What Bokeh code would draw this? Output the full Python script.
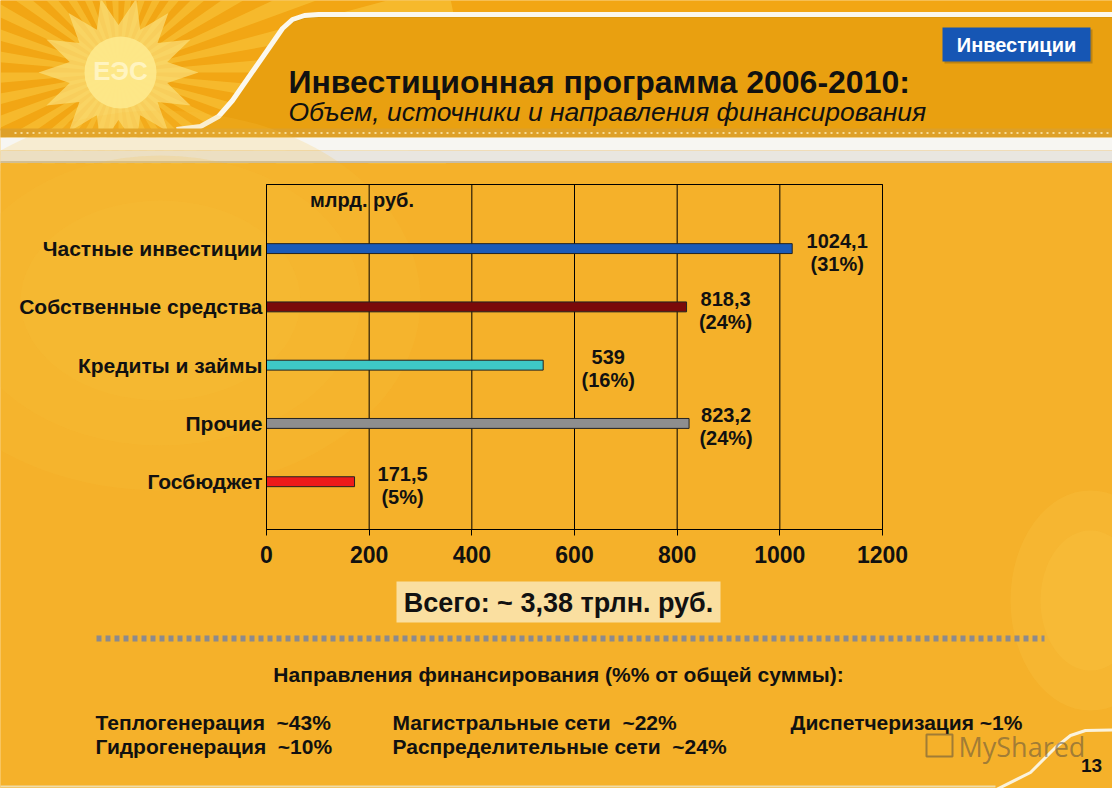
from bokeh.plotting import figure
from bokeh.models import Range1d, FixedTicker, Label, LinearAxis
from bokeh.embed import file_html
from bokeh.resources import INLINE
from bokeh.core.properties import value
import numpy as np

# ---------------- data ----------------
categories = ["Госбюджет", "Прочие", "Кредиты и займы", "Собственные средства", "Частные инвестиции"]
amounts = [171.5, 823.2, 539, 818.3, 1024.1]
value_labels = ["171,5", "823,2", "539", "818,3", "1024,1"]
share_labels = ["(5%)", "(24%)", "(16%)", "(24%)", "(31%)"]
x_ticks = [0, 200, 400, 600, 800, 1000, 1200]
unit_label = "млрд. руб."
total_label = "Всего: ~ 3,38 трлн. руб."
directions_title = "Направления финансирования (%% от общей суммы):"
directions_col1 = ["Теплогенерация\u00a0 ~43%", "Гидрогенерация\u00a0 ~10%"]
directions_col2 = ["Магистральные сети\u00a0 ~22%", "Распределительные сети\u00a0 ~24%"]
directions_col3 = ["Диспетчеризация ~1%"]
title_text = "Инвестиционная программа 2006-2010:"
subtitle_text = "Объем, источники и направления финансирования"
badge_text = "Инвестиции"
page_number = "13"

# ---------------- styles / layout constants ----------------
bar_colors = ["#ee1a1a", "#8e8e8e", "#3ec8c6", "#7a0a0a", "#1b5bb8"]
label_dx = [48, 37, 65, 39, 45]
FONT = "Liberation Sans"
BG = "#f5b12a"
W, H = 1112, 788
PX0, PX1, PY0, PY1 = 0, 1112, 0, 788          # slide coordinates covered by the canvas
FL, FR, FT, FB = 266, 882, 184, 529            # chart frame in slide coordinates
XMIN, XMAX = 0, 1200
YMIN, YMAX = -0.82, 5.1

sx = (FR - FL) / (XMAX - XMIN)
sy = (FB - FT) / (YMAX - YMIN)
cx_range = Range1d(XMIN - (FL - PX0) / sx, XMAX + (PX1 - FR) / sx)
cy_range = Range1d(YMIN - (PY1 - FB) / sy, YMAX + (FT - PY0) / sy)

p = figure(width=W, height=H, x_range=Range1d(PX0, PX1), y_range=Range1d(PY1, PY0),
           x_axis_type=None, y_axis_type=None, toolbar_location=None,
           output_backend="svg", min_border=0)
p.extra_x_ranges = {"cx": cx_range}
p.extra_y_ranges = {"cy": cy_range}
p.grid.visible = False
p.outline_line_color = None
p.background_fill_color = BG
p.border_fill_color = BG

# ---------------- header ----------------
p.quad(left=-10, right=1130, top=-10, bottom=130, color="#f2a614", line_color=None)
ang = np.linspace(0, 2 * np.pi, 73)
p.wedge(x=118, y=72, radius=340, start_angle=ang[:-1:2], end_angle=ang[1::2],
        color="#fcd650", alpha=0.4, line_color=None)
n = 28
t = np.linspace(0, 2 * np.pi, n, endpoint=False)
r = np.where(np.arange(n) % 2 == 0, 80, 50)
p.patch(x=118 + r * np.cos(t), y=72 + r * np.sin(t) * 0.95, color="#fbe07a", alpha=0.7, line_color=None)
p.circle(x=120, y=72, radius=36, color="#fde98c", alpha=0.9, line_color=None)
p.text(x=[120], y=[70], text=["ЕЭС"], text_font=value(FONT), text_font_style="bold",
       text_font_size="26px", text_color="#fff4c0", text_align="center", text_baseline="middle")
tx = [176, 200, 218, 232, 282, 292, 304, 318, 1130, 1130]
ty = [129, 126, 116, 100, 28, 19, 15, 14, 14, 129]
p.patch(x=tx, y=ty, color="#e9a010", line_color=None)
p.line(x=tx[:9], y=[v + 2 for v in ty[:9]], line_color="#b8860b", line_width=2, alpha=0.5)
p.line(x=tx[:9], y=ty[:9], line_color="#fbf8ee", line_width=5)
p.quad(left=-10, right=1130, top=128, bottom=137, color="#dea028", line_color=None)
p.line(x=[14, 1130], y=[132.5, 132.5], line_color="#f6dc98", line_width=2, line_dash="2 4")
p.quad(left=-10, right=1130, top=137, bottom=150, color="#f7f6f2", line_color=None)
p.quad(left=-10, right=1130, top=150, bottom=161, color="#e9e6e0", line_color=None)
p.line(x=[-10, 1130], y=[161.5, 161.5], line_color="#c8bda8", line_width=2)
p.quad(left=-10, right=1130, top=163, bottom=800, color=BG, line_color=None)
# soft highlights in the body
p.ellipse(x=[160, 160, 160], y=[300, 300, 300], width=[520, 400, 280], height=[380, 290, 200],
          color="#fac23c", alpha=0.18, line_color=None)
p.ellipse(x=[1090, 1090], y=[600, 600], width=[160, 100], height=[220, 140],
          color="#fac848", alpha=0.25, line_color=None)
# badge
p.quad(left=944, right=1092, top=29, bottom=63, color="#6b4a10", alpha=0.35, line_color=None)
p.quad(left=942, right=1090, top=27, bottom=61, color="#1656b4", line_color=None)
p.text(x=[1016], y=[44], text=[badge_text], text_font=value(FONT), text_font_style="bold",
       text_font_size="20px", text_color="white", text_align="center", text_baseline="middle")
p.text(x=[288], y=[81], text=[title_text], text_font=value(FONT), text_font_style="bold",
       text_font_size="32px", text_color="#111111", text_align="left", text_baseline="alphabetic")
p.text(x=[288], y=[111], text=[subtitle_text], text_font=value(FONT), text_font_style="italic",
       text_font_size="26.5px", text_color="#111111", text_align="left", text_baseline="alphabetic")

# ---------------- chart ----------------
C = dict(x_range_name="cx", y_range_name="cy")
ypos = list(range(len(categories)))
p.segment(x0=x_ticks, x1=x_ticks, y0=YMIN, y1=YMAX, line_color="black", line_width=1, **C)
p.quad(left=XMIN, right=XMAX, bottom=YMIN, top=YMAX, fill_color=None, line_color="black",
       line_width=1, **C)
p.hbar(y=ypos, right=amounts, left=0, height=0.17, fill_color=bar_colors,
       line_color="#222222", line_width=1, **C)
p.text(x=amounts, y=ypos, text=value_labels, x_offset=label_dx, y_offset=-8,
       text_font=value(FONT), text_font_style="bold", text_font_size="20px",
       text_color="#111111", text_align="center", text_baseline="middle", **C)
p.text(x=amounts, y=ypos, text=share_labels, x_offset=label_dx, y_offset=15,
       text_font=value(FONT), text_font_style="bold", text_font_size="20px",
       text_color="#111111", text_align="center", text_baseline="middle", **C)
p.add_layout(Label(x=186, y=4.84, text=unit_label, text_font=FONT, text_font_style="bold",
                   text_font_size="20px", text_color="#111111", text_align="center",
                   text_baseline="middle", **C))

xaxis = LinearAxis(x_range_name="cx", y_range_name="cy", fixed_location=YMIN,
                   bounds=(XMIN, XMAX), ticker=FixedTicker(ticks=x_ticks))
xaxis.axis_line_color = "black"
xaxis.major_tick_line_color = "black"
xaxis.major_tick_out = 6
xaxis.major_tick_in = 0
xaxis.minor_tick_line_color = None
xaxis.major_label_text_font = FONT
xaxis.major_label_text_font_style = "bold"
xaxis.major_label_text_font_size = "23px"
xaxis.major_label_text_color = "#111111"
xaxis.major_label_standoff = 10
p.add_layout(xaxis, "below")

yaxis = LinearAxis(x_range_name="cx", y_range_name="cy", fixed_location=XMIN,
                   bounds=(YMIN, YMAX), ticker=FixedTicker(ticks=ypos))
yaxis.major_label_overrides = {i: c for i, c in zip(ypos, categories)}
yaxis.axis_line_color = "black"
yaxis.major_tick_line_color = None
yaxis.minor_tick_line_color = None
yaxis.major_tick_out = 0
yaxis.major_tick_in = 0
yaxis.major_label_standoff = 4
yaxis.major_label_text_font = FONT
yaxis.major_label_text_font_style = "bold"
yaxis.major_label_text_font_size = "21px"
yaxis.major_label_text_color = "#111111"
p.add_layout(yaxis, "left")

# ---------------- footer ----------------
p.quad(left=396, right=720, top=581, bottom=622, color="#fadfa0", line_color=None)
p.text(x=[558], y=[602], text=[total_label], text_font=value(FONT), text_font_style="bold",
       text_font_size="27px", text_color="#111111", text_align="center", text_baseline="middle")
p.line(x=[96, 1044], y=[638, 638], line_color="#8c8a8c", line_width=6, line_dash="5 4")
p.text(x=[558], y=[674], text=[directions_title], text_font=value(FONT), text_font_style="bold",
       text_font_size="21px", text_color="#111111", text_align="center", text_baseline="middle")
p.text(x=[95, 95], y=[722, 746], text=directions_col1, text_font=value(FONT), text_font_style="bold",
       text_font_size="21px", text_color="#111111", text_align="left", text_baseline="middle")
p.text(x=[392, 392], y=[722, 746], text=directions_col2, text_font=value(FONT), text_font_style="bold",
       text_font_size="21px", text_color="#111111", text_align="left", text_baseline="middle")
p.text(x=[790], y=[722], text=directions_col3, text_font=value(FONT), text_font_style="bold",
       text_font_size="21px", text_color="#111111", text_align="left", text_baseline="middle")
p.line(x=[990, 1030, 1055, 1070, 1085, 1130], y=[792, 772, 747, 735, 730, 729],
       line_color="#fbf3dc", line_width=3)
p.line(x=[-10, 995], y=[786, 786], line_color="#f0dca8", line_width=2)
p.text(x=[958], y=[746], text=["MyShared"], text_font=value("Open Sans"),
       text_font_size="27px", text_color="#5a5040", text_alpha=0.55,
       text_align="left", text_baseline="middle")
p.quad(left=926, right=952, top=734, bottom=756, fill_color=None, line_color="#5a5040",
       line_alpha=0.55, line_width=2)
p.text(x=[1091], y=[765], text=[page_number], text_font=value(FONT), text_font_style="bold",
       text_font_size="19px", text_color="#111111", text_align="center", text_baseline="middle")

open("out.html", "w").write(file_html(p, INLINE))
